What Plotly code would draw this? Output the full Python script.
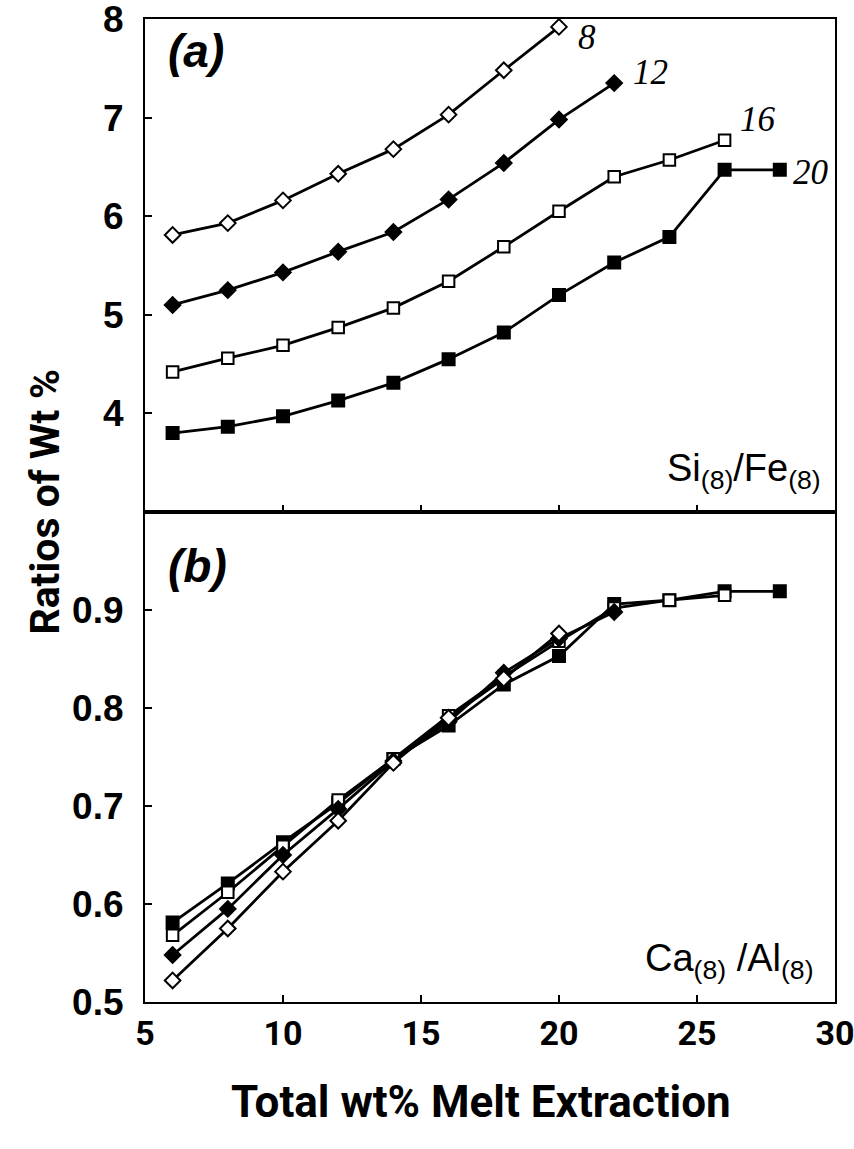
import plotly.graph_objects as go

# Total wt% melt extraction (x) for each run
x_8 = [6, 8, 10, 12, 14, 16, 18, 20]
x_12 = [6, 8, 10, 12, 14, 16, 18, 20, 22]
x_16 = [6, 8, 10, 12, 14, 16, 18, 20, 22, 24, 26]
x_20 = [6, 8, 10, 12, 14, 16, 18, 20, 22, 24, 26, 28]

# (a) Si(8)/Fe(8)
sife_8 = [5.81, 5.93, 6.16, 6.43, 6.68, 7.03, 7.48, 7.92]
sife_12 = [5.10, 5.25, 5.43, 5.64, 5.84, 6.17, 6.54, 6.98, 7.35]
sife_16 = [4.42, 4.56, 4.69, 4.87, 5.07, 5.34, 5.69, 6.05, 6.40, 6.57, 6.77]
sife_20 = [3.80, 3.865, 3.97, 4.13, 4.31, 4.55, 4.82, 5.20, 5.53, 5.79, 6.47, 6.47]

# (b) Ca(8)/Al(8)
caal_8 = [0.522, 0.575, 0.633, 0.685, 0.744, 0.790, 0.830, 0.876]
caal_12 = [0.548, 0.595, 0.650, 0.697, 0.746, 0.786, 0.836, 0.871, 0.898]
caal_16 = [0.568, 0.612, 0.659, 0.706, 0.748, 0.792, 0.832, 0.868, 0.902, 0.910, 0.915]
caal_20 = [0.581, 0.621, 0.663, 0.703, 0.748, 0.782, 0.824, 0.853, 0.906, 0.910, 0.919, 0.919]

run_labels = ["8", "12", "16", "20"]
x_ticks = [5, 10, 15, 20, 25, 30]
y_ticks_a = [4, 5, 6, 7, 8]
y_ticks_b = [0.5, 0.6, 0.7, 0.8, 0.9]

# marker style per run: (symbol, fill, size)
styles = {
    "8": ("diamond", "white", 12),
    "12": ("diamond", "black", 12),
    "16": ("square", "white", 11.5),
    "20": ("square", "black", 12),
}

panel_a = {"8": (x_8, sife_8), "12": (x_12, sife_12), "16": (x_16, sife_16), "20": (x_20, sife_20)}
panel_b = {"8": (x_8, caal_8), "12": (x_12, caal_12), "16": (x_16, caal_16), "20": (x_20, caal_20)}

fig = go.Figure()
for data, xa, ya in [(panel_a, "x", "y"), (panel_b, "x2", "y2")]:
    for name in ["20", "16", "12", "8"]:
        xs, ys = data[name]
        sym, fill, sz = styles[name]
        fig.add_trace(go.Scatter(
            x=xs, y=ys, mode="lines+markers", xaxis=xa, yaxis=ya,
            line=dict(color="black", width=2.8),
            marker=dict(symbol=sym, size=sz, color=fill, line=dict(color="black", width=2)),
            showlegend=False, hoverinfo="skip",
        ))

SANS = "Arial"
NARROW = "Roboto"
tick_font_y = dict(family=SANS, size=37, color="black", weight="bold")
tick_font_x = dict(family=NARROW, size=34, color="black", weight="bold")
split = 0.4985

axis_common = dict(showline=True, linecolor="black", linewidth=2.2, mirror=True,
                   ticks="inside", ticklen=7, tickwidth=2, tickcolor="black",
                   showgrid=False, zeroline=False, ticklabeloverflow="allow",
                   automargin=False)

fig.update_layout(
    width=854, height=1149,
    margin=dict(l=145, r=19, t=19, b=147, autoexpand=False),
    paper_bgcolor="white", plot_bgcolor="white",
    xaxis=dict(domain=[0, 1], range=[5, 30], anchor="y", tickvals=x_ticks,
               showticklabels=False, **axis_common),
    yaxis=dict(domain=[split, 1], range=[3, 8], anchor="x", tickvals=y_ticks_a,
               tickfont=tick_font_y, ticklabelstandoff=12, **axis_common),
    xaxis2=dict(domain=[0, 1], range=[5, 30], anchor="y2", tickvals=x_ticks,
                tickfont=tick_font_x, **axis_common),
    yaxis2=dict(domain=[0, split], range=[0.5, 1.0], anchor="x2", tickvals=y_ticks_b,
                ticktext=[f"{v:.1f}" for v in y_ticks_b],
                tickfont=tick_font_y, ticklabelstandoff=12, **axis_common),
)

# run labels at the end of each curve in panel (a)
label_pos = {"8": (20.6, 7.81), "12": (22.6, 7.46), "16": (26.5, 6.98), "20": (28.4, 6.44)}
for name in run_labels:
    lx, ly = label_pos[name]
    fig.add_annotation(x=lx, y=ly, xref="x", yref="y", text=name, showarrow=False,
                       xanchor="left", yanchor="middle",
                       font=dict(family="Liberation Serif", size=35,
                                 color="black", style="italic"))

panel_font = dict(family=SANS, size=46, color="black", weight="bold", style="italic")
fig.add_annotation(x=0.03, y=0.935, xref="x domain", yref="y domain", text="(a)",
                   showarrow=False, xanchor="left", yanchor="middle", font=panel_font)
fig.add_annotation(x=0.03, y=0.89, xref="x2 domain", yref="y2 domain", text="(b)",
                   showarrow=False, xanchor="left", yanchor="middle", font=panel_font)

ratio_font = dict(family=SANS, size=38, color="black")
fig.add_annotation(x=0.983, y=0.03, xref="x domain", yref="y domain",
                   text="Si<sub>(8)</sub>/Fe<sub>(8)</sub>", showarrow=False,
                   xanchor="right", yanchor="bottom", font=ratio_font)
fig.add_annotation(x=0.972, y=0.03, xref="x2 domain", yref="y2 domain",
                   text="Ca<sub>(8)</sub> /Al<sub>(8)</sub>", showarrow=False,
                   xanchor="right", yanchor="bottom", font=ratio_font)

fig.add_annotation(x=-0.145, y=0.509, xref="paper", yref="paper", text="Ratios of Wt %",
                   showarrow=False, textangle=-90, xanchor="center", yanchor="middle",
                   font=dict(family=NARROW, size=41, color="black", weight="bold"))
fig.add_annotation(x=0.487, y=-0.1017, xref="paper", yref="paper",
                   text="Total wt% Melt Extraction", showarrow=False,
                   xanchor="center", yanchor="middle",
                   font=dict(family=NARROW, size=44, color="black", weight="bold"))

fig.write_html("out.html")
